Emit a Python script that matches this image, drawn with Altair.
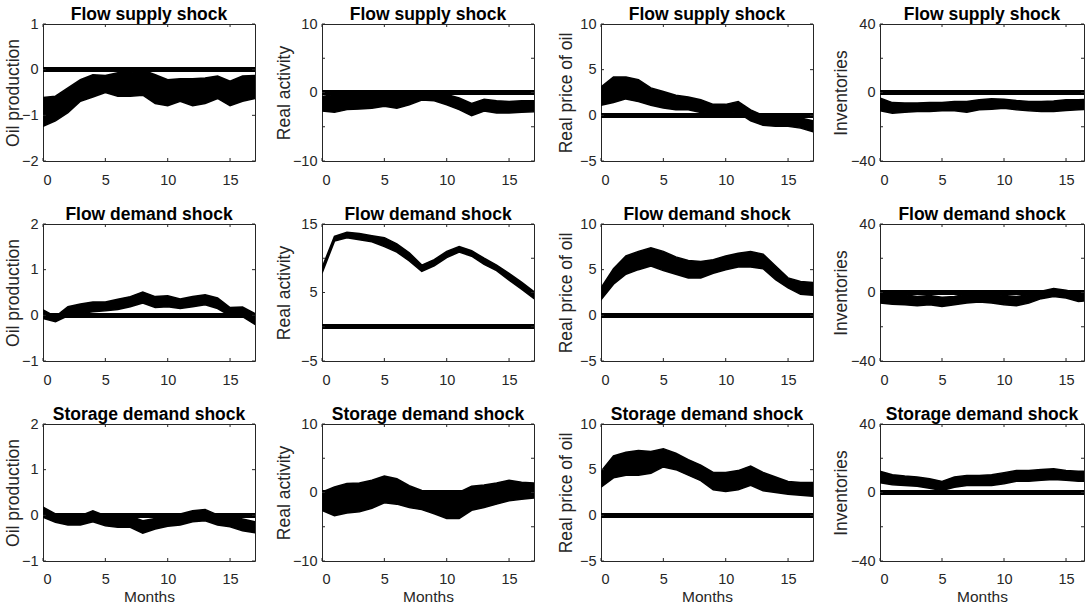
import altair as alt
import pandas as pd

months = list(range(18))
x_ticks = [0, 5, 10, 15]

row_titles = ["Flow supply shock", "Flow demand shock", "Storage demand shock"]
col_titles = ["Oil production", "Real activity", "Real price of oil", "Inventories"]

y_domains = [
    [[-2, 1], [-10, 10], [-5, 10], [-40, 40]],
    [[-1, 2], [-5, 15], [-5, 10], [-40, 40]],
    [[-1, 2], [-10, 10], [-5, 10], [-40, 40]],
]
y_ticks = [
    [[-2, -1, 0, 1], [-10, -5, 0, 5, 10], [-5, 0, 5, 10], [-40, -20, 0, 20, 40]],
    [[-1, 0, 1, 2], [-5, 0, 5, 10, 15], [-5, 0, 5, 10], [-40, -20, 0, 20, 40]],
    [[-1, 0, 1, 2], [-10, -5, 0, 5, 10], [-5, 0, 5, 10], [-40, -20, 0, 20, 40]],
]

# Flow supply shock
supply_oil_hi = [-0.61, -0.58, -0.40, -0.22, -0.11, -0.13, -0.07, -0.06, -0.01, -0.11, -0.22, -0.20, -0.20, -0.18, -0.14, -0.25, -0.14, -0.13]
supply_oil_lo = [-1.24, -1.12, -0.94, -0.69, -0.60, -0.50, -0.58, -0.58, -0.56, -0.74, -0.79, -0.69, -0.79, -0.74, -0.63, -0.79, -0.69, -0.63]
supply_act_hi = [-0.6, -0.3, -0.3, -0.3, -0.3, -0.2, -0.1, -0.1, 0.1, 0.1, -0.3, -0.8, -1.6, -1.0, -1.2, -1.3, -1.2, -1.2]
supply_act_lo = [-2.7, -2.9, -2.5, -2.4, -2.3, -2.0, -2.3, -1.8, -1.1, -1.2, -1.8, -2.5, -3.4, -2.7, -3.0, -3.0, -2.9, -2.8]
supply_price_hi = [3.1, 4.2, 4.2, 3.9, 3.0, 2.6, 2.2, 2.0, 1.7, 1.2, 1.2, 1.5, 0.6, 0.0, 0.0, 0.0, -0.3, -0.6]
supply_price_lo = [1.1, 1.4, 1.8, 1.5, 1.1, 0.8, 0.6, 0.6, 0.3, 0.2, 0.2, 0.3, -0.6, -1.1, -1.2, -1.2, -1.4, -1.8]
supply_inv_hi = [-3.3, -5.9, -6.2, -6.2, -5.9, -5.9, -5.3, -5.3, -4.3, -3.7, -3.9, -4.7, -5.3, -5.3, -4.9, -4.3, -4.3, -3.9]
supply_inv_lo = [-10.7, -12.1, -11.5, -11.1, -11.1, -10.7, -10.7, -11.5, -10.1, -9.8, -9.2, -10.1, -10.7, -11.1, -11.1, -10.5, -10.1, -9.8]

# Flow demand shock
demand_oil_hi = [0.12, -0.03, 0.19, 0.25, 0.29, 0.29, 0.35, 0.41, 0.51, 0.41, 0.43, 0.36, 0.41, 0.45, 0.38, 0.17, 0.18, 0.04]
demand_oil_lo = [-0.07, -0.14, -0.01, 0.04, 0.08, 0.10, 0.13, 0.19, 0.27, 0.17, 0.19, 0.15, 0.19, 0.23, 0.15, -0.01, -0.03, -0.20]
demand_act_hi = [8.6, 13.2, 13.8, 13.6, 13.3, 13.0, 12.1, 10.8, 9.0, 9.8, 11.0, 11.7, 11.1, 10.0, 9.0, 7.8, 6.5, 5.1]
demand_act_lo = [7.8, 12.5, 13.0, 12.7, 12.4, 11.7, 10.9, 9.6, 8.1, 8.9, 10.1, 10.9, 10.3, 9.1, 8.2, 6.8, 5.5, 4.1]
demand_price_hi = [3.0, 5.1, 6.5, 7.0, 7.4, 7.0, 6.4, 6.0, 5.9, 6.1, 6.5, 6.8, 7.0, 6.7, 5.4, 4.1, 3.7, 3.6]
demand_price_lo = [1.7, 3.4, 4.5, 5.0, 5.4, 4.9, 4.5, 4.1, 4.1, 4.6, 5.0, 5.3, 5.3, 5.1, 3.9, 3.0, 2.3, 2.2]
demand_inv_hi = [-0.3, -0.9, -1.3, -2.3, -1.7, -2.8, -2.3, -0.9, -0.3, -0.9, -1.7, -2.3, -1.3, 0.7, 2.3, 1.3, -0.3, 0.3]
demand_inv_lo = [-6.2, -6.8, -7.2, -7.8, -7.2, -8.2, -7.2, -6.2, -5.6, -6.2, -7.2, -7.8, -6.2, -3.6, -2.3, -3.2, -5.2, -4.8]

# Storage demand shock
storage_oil_hi = [0.18, 0.03, -0.02, -0.01, 0.10, -0.01, -0.02, -0.02, -0.12, -0.07, 0.01, 0.03, 0.10, 0.13, 0.01, -0.02, -0.08, -0.14]
storage_oil_lo = [-0.04, -0.15, -0.21, -0.21, -0.14, -0.23, -0.26, -0.26, -0.39, -0.30, -0.24, -0.21, -0.14, -0.12, -0.21, -0.25, -0.34, -0.38]
storage_act_hi = [0.05, 0.8, 1.3, 1.4, 1.8, 2.4, 2.0, 1.0, 0.3, 0.05, 0.05, 0.05, 0.9, 1.1, 1.4, 1.8, 1.5, 1.4]
storage_act_lo = [-2.6, -3.4, -3.0, -2.8, -2.3, -1.5, -1.7, -2.2, -2.5, -3.1, -3.8, -3.8, -2.6, -2.2, -1.7, -1.2, -1.0, -0.8]
storage_price_hi = [4.8, 6.5, 6.9, 7.1, 7.0, 7.3, 6.8, 6.1, 5.5, 4.7, 4.7, 4.9, 5.4, 4.7, 4.2, 3.7, 3.6, 3.6]
storage_price_lo = [3.1, 4.1, 4.4, 4.4, 4.6, 5.3, 5.0, 4.4, 3.8, 2.8, 2.6, 2.8, 3.3, 2.7, 2.5, 2.3, 2.2, 2.1]
storage_inv_hi = [12.4, 10.4, 9.6, 9.0, 8.0, 6.5, 9.0, 10.0, 10.0, 10.4, 11.6, 12.9, 12.9, 13.5, 13.9, 12.9, 12.4, 12.4]
storage_inv_lo = [5.7, 4.5, 4.1, 3.7, 2.5, 1.2, 3.1, 4.1, 4.1, 4.1, 5.1, 6.5, 6.5, 7.1, 7.6, 7.1, 6.5, 6.5]

bands = [
    [(supply_oil_lo, supply_oil_hi), (supply_act_lo, supply_act_hi), (supply_price_lo, supply_price_hi), (supply_inv_lo, supply_inv_hi)],
    [(demand_oil_lo, demand_oil_hi), (demand_act_lo, demand_act_hi), (demand_price_lo, demand_price_hi), (demand_inv_lo, demand_inv_hi)],
    [(storage_oil_lo, storage_oil_hi), (storage_act_lo, storage_act_hi), (storage_price_lo, storage_price_hi), (storage_inv_lo, storage_inv_hi)],
]

FONT = "Liberation Sans"
AX = "#262626"
H = 137
title_x = [-25, -33, -30, -34]


def panel(r, c):
    lo, hi = bands[r][c]
    df = pd.DataFrame({"month": months, "lo": lo, "hi": hi})
    w = 212 if c < 3 else 204
    xmax = 17 if c < 3 else 16.45
    xs = alt.Scale(domain=[0, xmax], nice=False, zero=False)
    ys = alt.Scale(domain=y_domains[r][c], nice=False, zero=False)
    if r == 2:
        xaxis = alt.Axis(values=x_ticks, title="Months", titleFontSize=15.5, titleFont=FONT,
                         titleFontWeight="normal", titleColor=AX, titlePadding=4,
                         labelOverlap=False, labelPadding=11)
    else:
        xaxis = alt.Axis(values=x_ticks, title="", labelOverlap=False, labelPadding=12)
    yaxis = alt.Axis(values=y_ticks[r][c], title=col_titles[c], titleFontSize=17.5,
                     titleFont=FONT, titleFontWeight="normal", titleColor=AX,
                     titleX=title_x[c], titleBaseline="alphabetic", labelOverlap=False,
                     labelPadding=5)
    band = alt.Chart(df).mark_area(color="black", stroke="black", strokeWidth=1.5,
                                   clip=True).encode(
        x=alt.X("month:Q", scale=xs, axis=xaxis),
        y=alt.Y("lo:Q", scale=ys, axis=yaxis),
        y2="hi:Q",
    )
    zero = alt.Chart(df).mark_rule(color="black", strokeWidth=3.8, clip=True).encode(
        y=alt.datum(0), x=alt.value(0), x2=alt.value(w)
    )
    xt = pd.DataFrame({"t": x_ticks})
    yt = pd.DataFrame({"t": y_ticks[r][c]})
    xtb = alt.Chart(xt).mark_rule(color=AX, strokeWidth=1).encode(
        x=alt.X("t:Q", scale=xs, axis=xaxis), y=alt.value(H), y2=alt.value(H - 3))
    xtt = alt.Chart(xt).mark_rule(color=AX, strokeWidth=1).encode(
        x=alt.X("t:Q", scale=xs, axis=xaxis), y=alt.value(0), y2=alt.value(3))
    ytl = alt.Chart(yt).mark_rule(color=AX, strokeWidth=1).encode(
        y=alt.Y("t:Q", scale=ys, axis=yaxis), x=alt.value(0), x2=alt.value(3))
    ytr = alt.Chart(yt).mark_rule(color=AX, strokeWidth=1).encode(
        y=alt.Y("t:Q", scale=ys, axis=yaxis), x=alt.value(w - 3), x2=alt.value(w))
    return alt.layer(band, zero, xtb, xtt, ytl, ytr).properties(
        width=w, height=H,
        title=alt.TitleParams(row_titles[r], fontSize=17.5, fontWeight="bold", font=FONT,
                              color="black", anchor="middle", offset=-7, frame="group"),
    )


panels = [panel(r, c) for r in range(3) for c in range(4)]

chart = alt.concat(*panels, columns=4, spacing={"row": 63, "column": 67},
                   bounds="flush").properties(
    padding={"left": 3, "top": 5, "right": 0, "bottom": 0},
    background="white",
).configure_view(stroke=AX, strokeWidth=1).configure_axis(
    domain=False, ticks=False, grid=False, labelFont=FONT, labelFontSize=14.5,
    labelColor=AX,
)

chart.save("out.html", embed_options={"renderer": "svg", "actions": False})
